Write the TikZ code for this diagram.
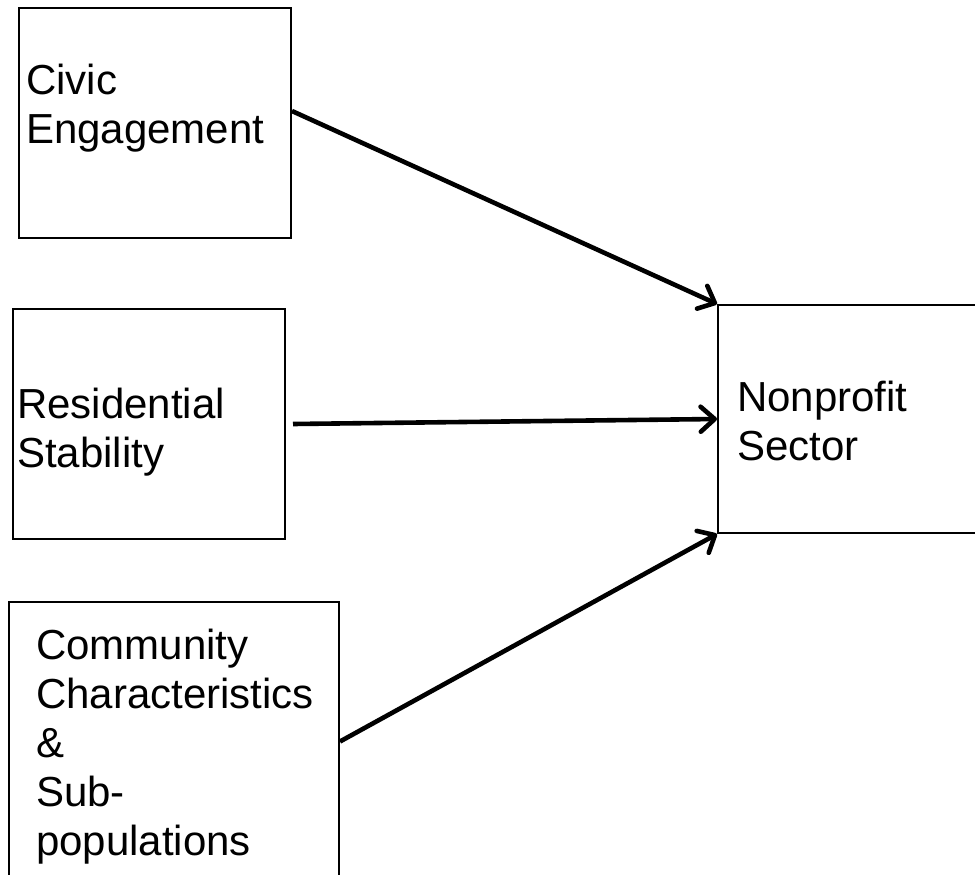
\documentclass[tikz,border=0pt]{standalone}
\usepackage{fontspec}
\setmainfont{Liberation Sans}
\usetikzlibrary{arrows.meta,positioning}

\begin{document}
\begin{tikzpicture}[%
>={Straight Barb[length=14pt,width=25pt,round]},
x=1pt,
y=-1pt,
box/.style={draw, line width=2pt, inner sep=0pt, anchor=north west},
lbl/.style={font=\fontsize{42}{49}\selectfont, align=left, inner sep=0pt, anchor=base west},
link/.style={->, line width=4.6pt}
]
\useasboundingbox (0,0) rectangle (975,875);
\node[box, minimum width=272pt, minimum height=230pt] (civic) at (18,7) {};
\node[box, minimum width=272pt, minimum height=230pt] (resid) at (12,308) {};
\node[box, minimum width=330pt, minimum height=279pt] (commun) at (8,601) {};
\node[box, minimum width=280pt, minimum height=228pt] (nonprofit) at (717,304) {};

% base anchor sits on the last line
\node[lbl] (civictxt) at (26,143) {Civic\\Engagement};
\node[lbl] (residtxt) at (17,467) {Residential\\Stability};
\node[lbl] (communtxt) at (36,855) {Community\\Characteristics\\\&\\Sub-\\populations};
\node[lbl] (nonprofittxt) at (737,460) {Nonprofit\\Sector};

% links into the sector
\path (civic.5) edge [link] (nonprofit.north west);
\path ([xshift=7pt] resid.east) edge [link] (nonprofit.west);
\path (commun.east) edge [link] (nonprofit.south west);
\end{tikzpicture}
\end{document}
